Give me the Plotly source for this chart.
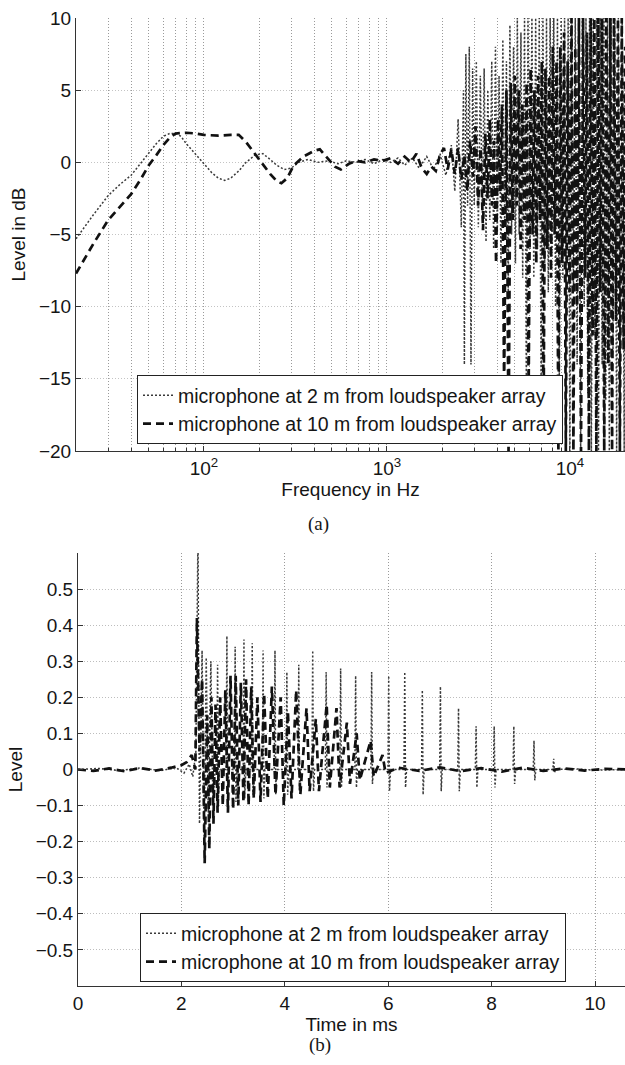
import plotly.graph_objects as go

# ---------------- (a) frequency response ----------------
freq_2m = [20, 25, 30, 35, 40, 45, 50, 55, 60, 65, 70, 75, 80, 90, 100, 110, 120, 130, 140, 155,
           170, 190, 210, 230, 250, 275, 300, 330, 370, 420, 480, 540, 600, 680, 760, 850, 950,
           1050, 1150, 1250, 1380, 1500, 1650, 1800, 1950, 2100, 2250, 2350, 2450, 2550,
           2620, 2650, 2700, 2760, 2820, 2880, 2940, 3000, 3080, 3160, 3240, 3320, 3400, 3480,
           3560, 3650, 3740, 3830, 3920, 4010, 4100, 4200, 4300, 4400, 4500, 4600, 4700, 4800,
           4920, 5040, 5160, 5280, 5400, 5520, 5650, 5780, 5900, 6050, 6200, 6350, 6500, 6650,
           6800, 6960, 7120, 7280, 7450, 7620, 7800, 7980, 8160, 8350, 8550, 8750, 8950, 9150,
           9350, 9560, 9780, 10000, 10230, 10460, 10700, 10950, 11200, 11450, 11700, 11970,
           12240, 12520, 12800, 13100, 13400, 13700, 14000, 14330, 14650, 15000, 15350, 15700,
           16050, 16420, 16800, 17200, 17600, 18000, 18400, 18850, 19300, 19800, 20000]
level_2m = [-5.3, -3.6, -2.3, -1.5, -0.9, -0.1, 0.6, 1.3, 1.8, 2.0, 2.0, 1.8, 1.3, 0.6, -0.1, -0.7,
            -1.1, -1.25, -1.1, -0.6, 0.0, 0.5, 0.6, 0.2, -0.2, -0.5, -0.4, 0.0, 0.2, 0.0, 0.1, -0.1,
            0.1, 0.0, 0.2, -0.1, 0.2, 0.0, 0.3, -0.2, 0.3, -0.4, 0.4, -0.5, 0.6, -0.9, 1.2, -2.0,
            3.0, -4.5, 5.0, -14.0, 7.5, -3.0, 8.0, -14.0, 6.5, -3.0, 7.0, -4.5, 6.0, -3.5, 6.5,
            -5.5, 5.0, -4.0, 7.0, -6.0, 8.0, -5.0, 6.0, -7.0, 8.5, -4.5, 7.0, -9.0, 9.5, -5.0,
            8.0, -7.0, 10.0, -5.0, 9.0, -8.0, 10.0, -15.5, 10.0, -6.0, 10.0, -8.0, 10.0, -6.0,
            10.0, -15.5, 10.0, -7.0, 10.0, -9.0, 10.0, -6.0, 10.0, -10.0, 10.0, -15.0, 10.0,
            -8.0, 10.0, -12.0, 10.0, -20.0, 10.0, -9.0, 10.0, -14.0, 10.0, -20.0, 10.0, -10.0,
            10.0, -16.0, 10.0, -20.0, 10.0, -12.0, 10.0, -20.0, 10.0, -14.0, 10.0, -16.5, 10.0,
            -20.0, 10.0, -13.0, 10.0, -20.0, 10.0, -15.0, 10.0, -20.0, 5.0]

freq_10m = [20, 25, 30, 35, 40, 45, 50, 55, 60, 65, 70, 80, 90, 100, 120, 140, 155, 170, 190, 210,
            230, 250, 265, 285, 310, 350, 400, 430, 470, 520, 560, 620, 680, 760, 850, 950, 1050,
            1150, 1250, 1350, 1450, 1550, 1650, 1750, 1850, 1950, 2050, 2150, 2250, 2350, 2450,
            2550, 2650, 2750, 2850, 2950, 3050, 3150, 3250, 3350, 3450, 3550, 3650, 3750, 3850,
            3950, 4050, 4150, 4250, 4370, 4500, 4620, 4750, 4880, 5000, 5120, 5250, 5380, 5500,
            5650, 5800, 5950, 6100, 6250, 6400, 6550, 6700, 6860, 7020, 7180, 7350, 7520, 7700,
            7880, 8060, 8250, 8450, 8650, 8860, 9070, 9290, 9500, 9720, 9950, 10200, 10450,
            10700, 10950, 11200, 11500, 11800, 12100, 12400, 12700, 13000, 13300, 13600, 13950,
            14300, 14650, 15000, 15400, 15800, 16200, 16600, 17000, 17400, 17850, 18300, 18750,
            19200, 19650, 20000]
level_10m = [-7.7, -5.6, -4.0, -3.0, -2.2, -1.2, -0.2, 0.5, 1.2, 1.7, 2.0, 2.05, 2.0, 1.9, 1.85,
             1.9, 1.9, 1.4, 0.6, -0.1, -0.8, -1.3, -1.45, -1.1, -0.2, 0.4, 0.8, 0.9, 0.3, -0.3,
             -0.5, -0.1, 0.1, 0.0, 0.2, 0.1, 0.3, -0.1, 0.4, 0.0, 0.6, -0.4, -0.8, -0.3, -0.6,
             0.5, 1.0, -0.5, 0.9, -0.8, 1.0, -1.2, 0.5, -2.0, 1.5, -1.0, 2.5, -3.0, 1.0, -4.7,
             2.0, -2.5, 3.0, -3.0, 1.5, -7.0, 3.0, -2.0, 4.0, -15.5, 5.0, -20.0, 5.5, -4.0, 6.0,
             -3.0, 5.0, -6.0, 4.0, -4.0, 5.5, -16.0, 6.5, -5.0, 5.0, -7.0, 6.0, -4.0, 7.0, -18.0,
             6.5, -6.0, 6.0, -8.0, 8.0, -5.0, 7.0, -20.0, 8.0, -7.0, 9.0, -20.0, 7.0, -9.0,
             10.0, -20.0, 8.0, -10.0, 10.0, -20.0, 10.0, -8.0, 9.0, -20.0, 10.0, -12.0, 10.0,
             -20.0, 10.0, -9.0, 10.0, -20.0, 10.0, -14.0, 10.0, -20.0, 10.0, -11.0, 10.0, -20.0,
             10.0, -13.0, 8.0]

# ---------------- (b) impulse response ----------------
time_2m = [0.0, 0.4, 0.8, 1.2, 1.6, 1.9, 2.05, 2.15, 2.22, 2.28, 2.32, 2.35, 2.40, 2.44, 2.48,
           2.52, 2.57, 2.61, 2.65,
           2.685, 2.70, 2.715, 2.735,
           2.865, 2.88, 2.895, 2.915,
           3.025, 3.04, 3.055, 3.075,
           3.195, 3.21, 3.225, 3.245,
           3.355, 3.37, 3.385, 3.405,
           3.565, 3.58, 3.595, 3.615,
           3.795, 3.81, 3.825, 3.845,
           4.025, 4.04, 4.055, 4.075,
           4.255, 4.27, 4.285, 4.305,
           4.525, 4.54, 4.555, 4.575,
           4.785, 4.80, 4.815, 4.835,
           5.065, 5.08, 5.095, 5.115,
           5.355, 5.37, 5.385, 5.405,
           5.665, 5.68, 5.695, 5.715,
           5.995, 6.01, 6.025, 6.045,
           6.305, 6.32, 6.335, 6.355,
           6.645, 6.66, 6.675, 6.695,
           6.995, 7.01, 7.025, 7.045,
           7.345, 7.36, 7.375, 7.395,
           7.685, 7.70, 7.715, 7.735,
           8.035, 8.05, 8.065, 8.085,
           8.415, 8.43, 8.445, 8.465,
           8.805, 8.82, 8.835, 8.855,
           9.185, 9.20, 9.215, 9.235,
           9.6, 10.0, 10.6]
level_t_2m = [0.0, 0.003, -0.003, 0.004, -0.003, 0.005, -0.01, 0.015, -0.02, 0.05, 0.65, -0.15,
              0.33, -0.2, 0.31, -0.12, 0.30, -0.1, 0.0,
              0.0, 0.29, -0.08, 0.0,
              0.0, 0.37, -0.1, 0.0,
              0.0, 0.34, -0.09, 0.0,
              0.0, 0.36, -0.08, 0.0,
              0.0, 0.35, -0.07, 0.0,
              0.0, 0.33, -0.08, 0.0,
              0.0, 0.33, -0.07, 0.0,
              0.0, 0.27, -0.07, 0.0,
              0.0, 0.29, -0.06, 0.0,
              0.0, 0.33, -0.06, 0.0,
              0.0, 0.27, -0.05, 0.0,
              0.0, 0.28, -0.05, 0.0,
              0.0, 0.26, -0.05, 0.0,
              0.0, 0.27, -0.04, 0.0,
              0.0, 0.26, -0.06, 0.0,
              0.0, 0.27, -0.05, 0.0,
              0.0, 0.22, -0.07, 0.0,
              0.0, 0.23, -0.06, 0.0,
              0.0, 0.17, -0.06, 0.0,
              0.0, 0.12, -0.05, 0.0,
              0.0, 0.12, -0.05, 0.0,
              0.0, 0.12, -0.04, 0.0,
              0.0, 0.08, -0.03, 0.0,
              0.0, 0.03, -0.01, 0.0,
              0.002, -0.002, 0.0]

time_10m = [0.0, 0.3, 0.6, 0.9, 1.2, 1.5, 1.8, 2.0, 2.1, 2.2, 2.27, 2.30, 2.35, 2.40, 2.45, 2.50,
            2.54, 2.58, 2.62, 2.66, 2.70, 2.75, 2.80, 2.85, 2.90, 2.95, 3.00, 3.05, 3.10, 3.15,
            3.20, 3.25, 3.30, 3.35, 3.40, 3.47, 3.53, 3.60, 3.67, 3.75, 3.82, 3.92, 3.98, 4.06,
            4.13, 4.22, 4.30, 4.42, 4.48, 4.60, 4.66, 4.81, 4.87, 5.00, 5.06, 5.20, 5.26, 5.39,
            5.45, 5.66, 5.72, 5.89, 5.95, 6.2, 6.6, 7.0, 7.4, 7.8, 8.2, 8.6, 9.0, 9.4, 9.8, 10.2,
            10.6]
level_t_10m = [0.0, -0.004, 0.003, -0.005, 0.004, -0.003, 0.005, 0.012, 0.02, 0.04, 0.0, 0.42,
               0.05, 0.25, -0.26, 0.15, -0.22, 0.20, -0.15, 0.18, -0.12, 0.20, -0.10, 0.22, -0.12,
               0.26, -0.11, 0.26, -0.10, 0.24, -0.09, 0.25, -0.10, 0.23, -0.08, 0.20, -0.09, 0.21,
               -0.08, 0.23, -0.07, 0.20, -0.10, 0.16, -0.08, 0.22, -0.07, 0.17, -0.06, 0.14, -0.06,
               0.18, -0.05, 0.17, -0.05, 0.13, -0.04, 0.10, -0.03, 0.08, -0.02, 0.04, -0.01, 0.005,
               -0.004, 0.006, -0.005, 0.004, -0.006, 0.005, -0.004, 0.003, -0.003, 0.002, 0.0]

name_2m = "microphone at 2 m from loudspeaker array"
name_10m = "microphone at 10 m from loudspeaker array"

major_f = [100, 1000, 10000]
major_f_text = ["10<sup>2</sup>", "10<sup>3</sup>", "10<sup>4</sup>"]
minor_f = [20, 30, 40, 50, 60, 70, 80, 90, 200, 300, 400, 500, 600, 700, 800, 900,
           2000, 3000, 4000, 5000, 6000, 7000, 8000, 9000, 20000]
db_ticks = [-20, -15, -10, -5, 0, 5, 10]
time_ticks = [0, 2, 4, 6, 8, 10]
lvl_ticks = [-0.5, -0.4, -0.3, -0.2, -0.1, 0, 0.1, 0.2, 0.3, 0.4, 0.5]
lvl_text = ["\u22120.5", "\u22120.4", "\u22120.3", "\u22120.2", "\u22120.1", "0",
            "0.1", "0.2", "0.3", "0.4", "0.5"]

FONT = "Liberation Sans, Arial, Helvetica, sans-serif"
SERIF = "Liberation Serif, Times New Roman, serif"
TXT = "#151515"
DOT = dict(color="#3a3a3a", width=1.5, dash="2px,2px")
DASH = dict(color="#111111", width=2.7, dash="8px,5px")

fig = go.Figure()
fig.add_trace(go.Scatter(x=freq_2m, y=level_2m, mode="lines", name=name_2m, line=DOT,
                         xaxis="x", yaxis="y", legend="legend"))
fig.add_trace(go.Scatter(x=freq_10m, y=level_10m, mode="lines", name=name_10m, line=DASH,
                         xaxis="x", yaxis="y", legend="legend"))
fig.add_trace(go.Scatter(x=time_2m, y=level_t_2m, mode="lines", name=name_2m, line=DOT,
                         xaxis="x2", yaxis="y2", legend="legend2"))
fig.add_trace(go.Scatter(x=time_10m, y=level_t_10m, mode="lines", name=name_10m, line=DASH,
                         xaxis="x2", yaxis="y2", legend="legend2"))

W, H = 625, 1065
axis_common = dict(showline=True, linecolor="#333", linewidth=1, ticks="inside", ticklen=5,
                   tickcolor="#333", mirror=False, zeroline=False, automargin=False,
                   tickfont=dict(family=FONT, size=19, color=TXT),
                   gridcolor="#9a9a9a", griddash="1px,2px", gridwidth=1, showgrid=True)
title_font = dict(family=FONT, size=19, color=TXT)
legend_font = dict(family=FONT, size=19.5, color=TXT)

fig.update_layout(
    width=W, height=H, margin=dict(l=0, r=0, t=0, b=0),
    paper_bgcolor="white", plot_bgcolor="white",
    font=dict(family=FONT, size=19, color=TXT),
    xaxis=dict(axis_common, type="log", domain=[76 / W, 1.0], anchor="y",
               range=[1.30103, 4.30103], tickmode="array", tickvals=major_f,
               ticktext=major_f_text,
               minor=dict(tickmode="array", tickvals=minor_f, ticks="inside", ticklen=3,
                          tickcolor="#333", showgrid=True, gridcolor="#9a9a9a",
                          griddash="1px,2px", gridwidth=1),
               title=dict(text="Frequency in Hz", standoff=4, font=title_font)),
    yaxis=dict(axis_common, domain=[1 - 451 / H, 1 - 18 / H], anchor="x",
               range=[-20, 10], tickmode="array", tickvals=db_ticks,
               gridcolor="#c4c4c4",
               title=dict(text="Level in dB", standoff=8, font=title_font)),
    xaxis2=dict(axis_common, domain=[78 / W, 1.0], anchor="y2",
                range=[0, 10.58], tickmode="array", tickvals=time_ticks,
                title=dict(text="Time in ms", standoff=2, font=title_font)),
    yaxis2=dict(axis_common, domain=[1 - 986 / H, 1 - 553 / H], anchor="x2",
                range=[-0.6, 0.6], tickmode="array", tickvals=lvl_ticks, ticktext=lvl_text,
                gridcolor="#bdbdbd",
                title=dict(text="Level", standoff=8, font=title_font)),
    legend=dict(x=350 / W, xanchor="center", y=1 - 444 / H, yanchor="bottom",
                bgcolor="white", bordercolor="#222", borderwidth=1,
                font=legend_font, tracegroupgap=0, itemwidth=30),
    legend2=dict(x=353 / W, xanchor="center", y=1 - 982 / H, yanchor="bottom",
                 bgcolor="white", bordercolor="#222", borderwidth=1,
                 font=legend_font, tracegroupgap=0, itemwidth=30),
    showlegend=True,
    annotations=[
        dict(text="(a)", x=318 / W, y=1 - 524 / H, xref="paper", yref="paper",
             xanchor="center", yanchor="middle", showarrow=False,
             font=dict(family=SERIF, size=19, color=TXT)),
        dict(text="(b)", x=320 / W, y=1 - 1045 / H, xref="paper", yref="paper",
             xanchor="center", yanchor="middle", showarrow=False,
             font=dict(family=SERIF, size=19, color=TXT)),
    ],
)

fig.write_html("out.html")
